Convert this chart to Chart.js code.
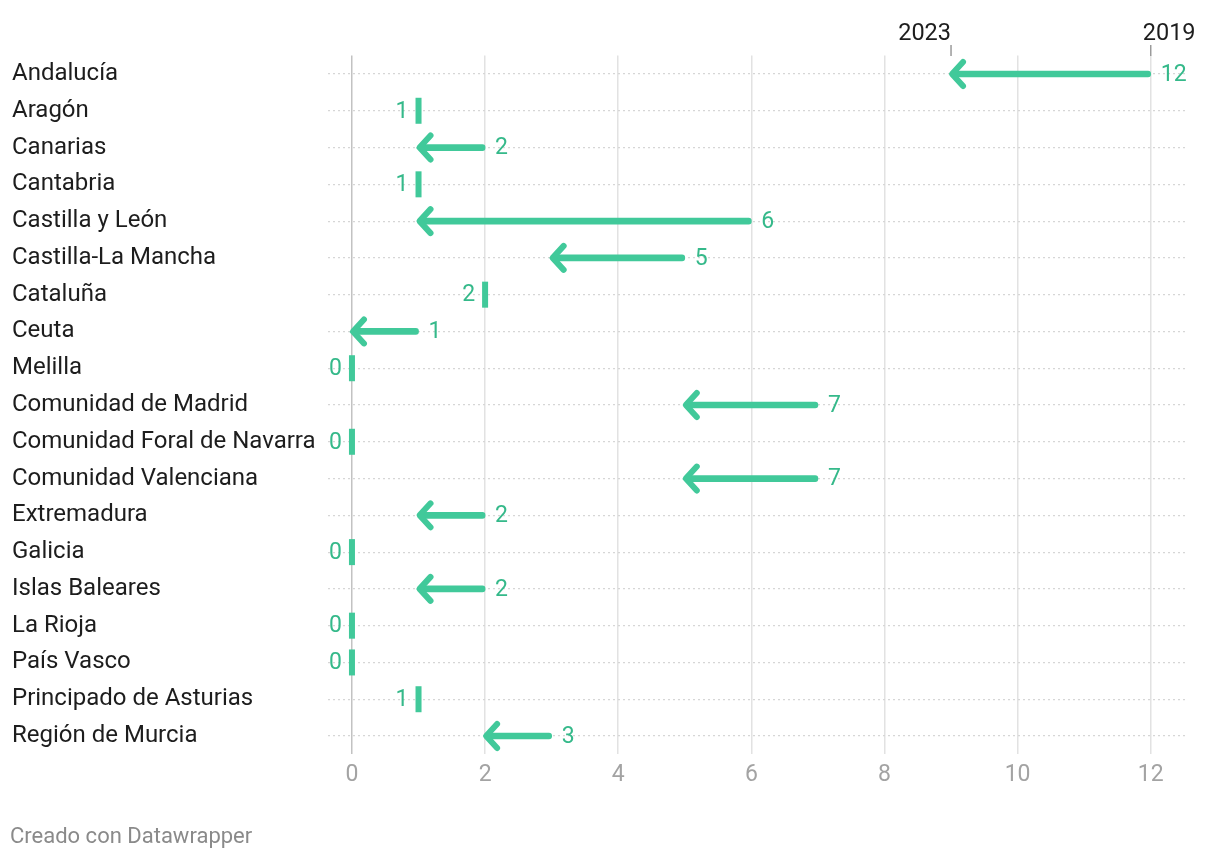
<!DOCTYPE html>
<html>
<head>
<meta charset="utf-8">
<script src="https://cdn.jsdelivr.net/npm/chart.js@4"></script>
<style>
  body { margin: 0; background: #fff; font-family: Roboto, sans-serif; }
  #wrap { position: relative; width: 1220px; height: 862px; }
  #credit { position: absolute; left: 10px; top: 823px; font-size: 22px; color: #8a8a8a; }
</style>
</head>
<body>
<div id="wrap">
  <canvas id="chart" width="1220" height="862"></canvas>
  <div id="credit">Creado con Datawrapper</div>
</div>
<script>
// Data
const regions = [
  'Andalucía', 'Aragón', 'Canarias', 'Cantabria', 'Castilla y León',
  'Castilla-La Mancha', 'Cataluña', 'Ceuta', 'Melilla', 'Comunidad de Madrid',
  'Comunidad Foral de Navarra', 'Comunidad Valenciana', 'Extremadura', 'Galicia',
  'Islas Baleares', 'La Rioja', 'País Vasco', 'Principado de Asturias', 'Región de Murcia'
];
const values2019 = [12, 1, 2, 1, 6, 5, 2, 1, 0, 7, 0, 7, 2, 0, 2, 0, 0, 1, 3];
const values2023 = [9, 1, 1, 1, 1, 3, 2, 0, 0, 5, 0, 5, 1, 0, 1, 0, 0, 1, 2];
const xTicks = [0, 2, 4, 6, 8, 10, 12];
const yearLabels = ['2023', '2019'];

// Styles
const green = '#41c99a';
const greenText = '#35b98a';
const font = 'Roboto, sans-serif';

// Shafts as floating bars (2023 -> 2019), skipped where nothing changed
const shafts = values2019.map((v, i) => v !== values2023[i] ? [values2023[i], v] : null);

// Arrow heads, no-change markers, value labels and the year header
const arrowPlugin = {
  id: 'arrows',
  afterDatasetsDraw(chart) {
    const { ctx, scales: { x, y } } = chart;
    ctx.save();
    ctx.font = '23px ' + font;
    ctx.textBaseline = 'middle';
    regions.forEach((r, i) => {
      const cy = y.getPixelForValue(i);
      const x19 = x.getPixelForValue(values2019[i]);
      const x23 = x.getPixelForValue(values2023[i]);
      ctx.fillStyle = green;
      ctx.strokeStyle = green;
      if (values2019[i] === values2023[i]) {
        ctx.fillRect(x19 - 3, cy - 13, 6, 26);
        ctx.fillStyle = greenText;
        ctx.textAlign = 'right';
        ctx.fillText(String(values2019[i]), x19 - 10, cy + 1);
      } else {
        ctx.lineWidth = 6;
        ctx.lineCap = 'round';
        ctx.lineJoin = 'round';
        ctx.beginPath();
        ctx.moveTo(x23 + 12, cy - 12);
        ctx.lineTo(x23 + 1, cy);
        ctx.lineTo(x23 + 12, cy + 12);
        ctx.stroke();
        ctx.fillStyle = greenText;
        ctx.textAlign = 'left';
        ctx.fillText(String(values2019[i]), x19 + 10, cy + 1);
      }
    });

    // year header above the first row
    const h23 = x.getPixelForValue(values2023[0]);
    const h19 = x.getPixelForValue(values2019[0]);
    ctx.strokeStyle = '#9a9a9a';
    ctx.lineWidth = 1.5;
    ctx.lineCap = 'butt';
    [h23, h19].forEach(px => {
      ctx.beginPath();
      ctx.moveTo(px, 45);
      ctx.lineTo(px, 56);
      ctx.stroke();
    });
    ctx.font = '23.5px ' + font;
    ctx.fillStyle = '#1d1d1d';
    ctx.textAlign = 'right';
    ctx.fillText(yearLabels[0], h23, 34);
    ctx.textAlign = 'left';
    ctx.fillText(yearLabels[1], h19 - 8, 34);
    ctx.restore();
  }
};

new Chart(document.getElementById('chart'), {
  type: 'bar',
  data: {
    labels: regions,
    datasets: [{
      data: shafts,
      backgroundColor: green,
      barThickness: 6,
      borderRadius: 3,
      borderSkipped: false
    }]
  },
  options: {
    indexAxis: 'y',
    responsive: false,
    animation: false,
    layout: { padding: { top: 55.6, left: 12, right: 32, bottom: 67.6 } },
    plugins: { legend: { display: false }, tooltip: { enabled: false } },
    scales: {
      x: {
        min: -0.36,
        max: 12.56,
        afterBuildTicks: scale => { scale.ticks = xTicks.map(v => ({ value: v })); },
        afterFit: scale => { scale.height = 40; },
        border: { display: false },
        grid: {
          drawTicks: false,
          color: c => c.tick && c.tick.value === 0 ? '#c2c2c2' : '#e2e2e2',
          lineWidth: 1.5
        },
        ticks: {
          padding: 7,
          color: '#a3a3a3',
          font: { family: font, size: 23 }
        }
      },
      y: {
        afterFit: scale => { scale.width = 316; },
        grid: {
          offset: false,
          drawTicks: false,
          color: '#d6d6d6',
          lineWidth: 1.2
        },
        border: { display: false, dash: [2, 3] },
        ticks: {
          crossAlign: 'far',
          padding: 0,
          color: '#1d1d1d',
          font: { family: font, size: 24 }
        }
      }
    }
  },
  plugins: [arrowPlugin]
});
</script>
</body>
</html>
